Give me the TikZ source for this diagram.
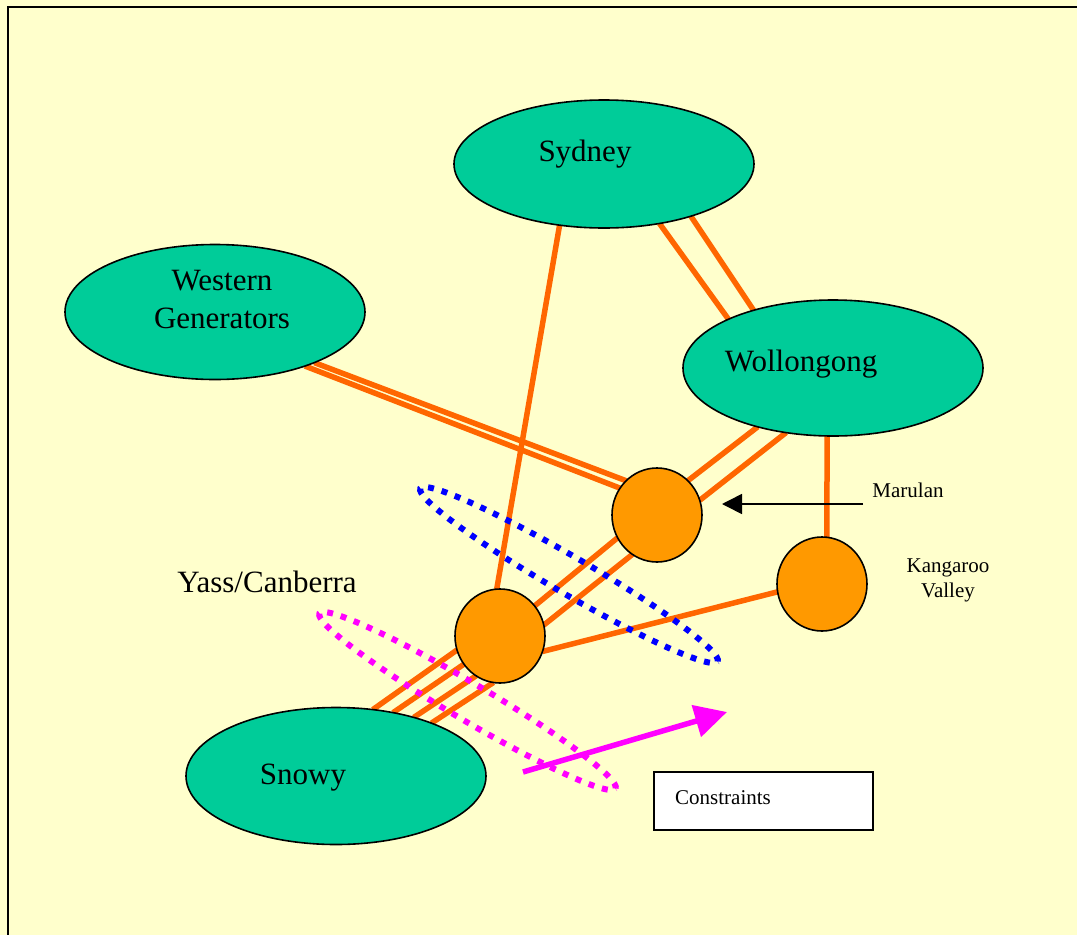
\documentclass[tikz,border=0pt]{standalone}
\usepackage{fontspec}
\setmainfont{Liberation Serif}
\usetikzlibrary{shapes.geometric,arrows.meta}
\pgfdeclarelayer{bg}
\pgfsetlayers{bg,main}
\definecolor{bgyellow}{HTML}{FFFFCC}
\definecolor{nodegreen}{HTML}{00CC99}
\definecolor{busorange}{HTML}{FF9900}
\definecolor{lineorange}{HTML}{FF6600}
\definecolor{dotblue}{HTML}{0000FF}
\definecolor{dotmag}{HTML}{FF00FF}
\begin{document}
\begin{tikzpicture}[x=1pt,y=-1pt,
  region/.style={ellipse, draw=black, line width=1.6pt, fill=nodegreen, minimum width=300pt, minimum height=135pt, inner sep=0pt, outer sep=0pt},
  busnode/.style={ellipse, draw=black, line width=1.6pt, fill=busorange, minimum width=90pt, minimum height=94pt, inner sep=0pt, outer sep=0pt},
  bigtxt/.style={font=\fontsize{31}{38}\selectfont, inner sep=0pt, anchor=base},
  smalltxt/.style={font=\fontsize{21}{25}\selectfont, inner sep=0pt, anchor=base},
  link/.style={draw=lineorange, line width=5.5pt},
  dotring/.style={ellipse, line width=6pt, dash pattern=on 6pt off 8pt, minimum width=344pt, minimum height=37pt, inner sep=0pt},
  magarrow/.style={draw=dotmag, line width=5.5pt, -{Triangle[length=32pt,width=32pt]}},
  pointer/.style={draw=black, line width=1.6pt, -{Triangle[length=20pt,width=20pt]}},
  cbox/.style={draw=black, line width=1.6pt, fill=white, minimum width=219pt, minimum height=58pt, inner sep=0pt},
]
\useasboundingbox (0,0) rectangle (1077,935);

% main nodes
\node[region, minimum height=128pt] (syd) at (604,164) {};
\node[region] (west) at (215,312) {};
\node[region, minimum height=136pt] (wol) at (833,368) {};
\node[region, minimum height=137pt] (snowy) at (336,776) {};
\node[busnode] (mar) at (657,515) {};
\node[busnode] (kan) at (822,584) {};
\node[busnode] (yass) at (500,636) {};

% labels
\node[bigtxt] (sydt) at (585,161) {Sydney};
\node[bigtxt, align=center] (westt) at (222,328) {Western\\Generators};
\node[bigtxt] (wolt) at (801,371) {Wollongong};
\node[bigtxt] (snowyt) at (303,784) {Snowy};
\node[bigtxt] (yasst) at (267,592) {Yass/Canberra};
\node[smalltxt] (mart) at (908,497) {Marulan};
\node[smalltxt, align=center] (kant) at (948,597) {Kangaroo\\Valley};

% constraint regions
\node[dotring, draw=dotblue, rotate=-30.2] (blring) at (569,575) {};
\node[dotring, draw=dotmag, rotate=-30.6] (mgring) at (467.5,701) {};

% constraints box
\node[cbox] (cons) at (763.5,801) {};
\node[smalltxt, anchor=base west] (const) at (675,804) {Constraints};

% arrows
\coordinate (magtail) at (523,772);
\coordinate (maghead) at (727,712);
\draw[magarrow] (magtail) -- (maghead);
\coordinate (marlab) at (863,504);
\coordinate (marptr) at (722,504);
\draw[pointer] (marlab) -- (marptr);

\begin{pgfonlayer}{bg}
\fill[bgyellow] (0,0) rectangle (1077,935);
\draw[black, line width=2pt] (7.5,935) -- (7.5,6.5) -- (1077,6.5);
% transmission lines
\path[link] (syd.234) -- (yass.94);
\path[link] (syd.313) -- (wol.155);
\path[link] (syd.329) -- (wol.144);
\path[link] (west.333) -- (mar.132);
\path[link] (west.329) -- (mar.144);
\path[link] (wol.218) -- (mar.48);
\path[link] (wol.234) -- (mar.19);
\path[link] (wol.265) -- (kan.84);
\path[link] (kan.190) -- (yass.340);
\path[link] (mar.210) -- (yass.41);
\path[link] (mar.238) -- (yass.14);
\path[link] (yass.198) -- (snowy.61);
\path[link] (yass.218) -- (snowy.48);
\path[link] (yass.239) -- (snowy.37);
\path[link] (yass.262) -- (snowy.29);
\end{pgfonlayer}
\end{tikzpicture}
\end{document}
